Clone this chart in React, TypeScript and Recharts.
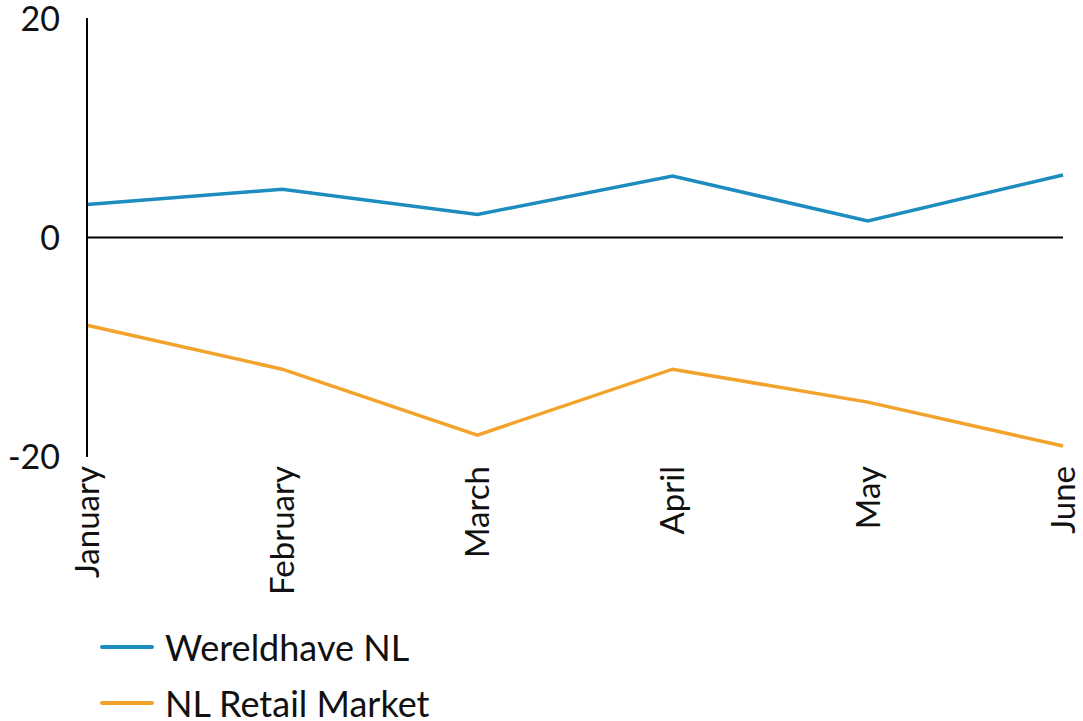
import React from "react";
import {
  LineChart,
  Line,
  XAxis,
  YAxis,
  ReferenceLine,
  Legend,
} from "recharts";

const months = ["January", "February", "March", "April", "May", "June"];
const wereldhave = [3.0, 4.4, 2.1, 5.6, 1.5, 5.7];
const retailMarket = [-8, -12, -18, -12, -15, -19];
const yTicks = [-20, 0, 20];
const seriesOrder = ["Wereldhave NL", "NL Retail Market"];

const BLUE = "#1d8cbf";
const ORANGE = "#f2a32b";
const FONT = "Lato, 'Open Sans', sans-serif";

const data = months.map((m, i) => ({
  month: m,
  "Wereldhave NL": wereldhave[i],
  "NL Retail Market": retailMarket[i],
}));

const MonthTick = (props: any) => {
  const { x, y, payload } = props;
  return (
    <g transform={`translate(${x},${y})`}>
      <text
        transform="rotate(-90)"
        textAnchor="end"
        dy="0.36em"
        fill="#111"
        fontSize={33}
        fontFamily={FONT}
      >
        {payload.value}
      </text>
    </g>
  );
};

const LegendBox = (props: any) => {
  const items = [...(props.payload || [])].sort(
    (a: any, b: any) => seriesOrder.indexOf(a.value) - seriesOrder.indexOf(b.value)
  );
  return (
    <div style={{ fontFamily: FONT, fontSize: 36, color: "#111" }}>
      {items.map((it: any) => (
        <div
          key={it.value}
          style={{ display: "flex", alignItems: "center", height: 56 }}
        >
          <svg width={56} height={8} style={{ marginRight: 10 }}>
            <line
              x1={3}
              y1={4}
              x2={53}
              y2={4}
              stroke={it.color}
              strokeWidth={4}
              strokeLinecap="round"
            />
          </svg>
          <span>{it.value}</span>
        </div>
      ))}
    </div>
  );
};

export default function App() {
  return (
    <div style={{ position: "absolute", left: 0, top: 0 }}>
      <LineChart
        width={1083}
        height={721}
        data={data}
        margin={{ top: 18, right: 20, left: 0, bottom: 124 }}
      >
        <XAxis
          dataKey="month"
          axisLine={false}
          tickLine={false}
          height={140}
          tickMargin={9}
          tickSize={0}
          interval={0}
          tick={<MonthTick />}
        />
        <YAxis
          domain={[-20, 20]}
          ticks={yTicks}
          width={87}
          tickLine={false}
          tickSize={6}
          tickMargin={21}
          axisLine={{ stroke: "#000", strokeWidth: 2 }}
          tick={{ fill: "#111", fontSize: 34, fontFamily: FONT }}
        />
        <ReferenceLine y={0} stroke="#000" strokeWidth={2} />
        <Line
          dataKey="Wereldhave NL"
          stroke={BLUE}
          strokeWidth={3.5}
          dot={false}
          isAnimationActive={false}
        />
        <Line
          dataKey="NL Retail Market"
          stroke={ORANGE}
          strokeWidth={3.5}
          dot={false}
          isAnimationActive={false}
        />
        <Legend
          layout="horizontal"
          verticalAlign="middle"
          align="center"
          content={<LegendBox />}
          wrapperStyle={{ top: 619, left: 99, width: 500 }}
        />
      </LineChart>
    </div>
  );
}
